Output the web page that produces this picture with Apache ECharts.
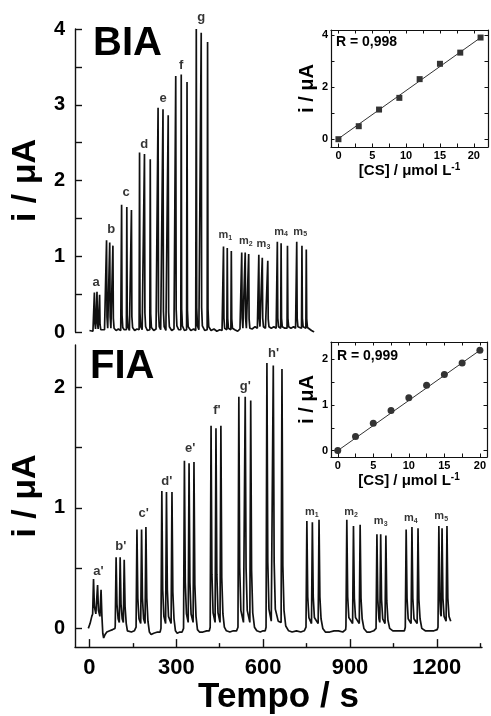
<!DOCTYPE html>
<html>
<head>
<meta charset="utf-8">
<script src="https://cdn.jsdelivr.net/npm/echarts@6/dist/echarts.min.js"></script>
<style>
  html, body { margin: 0; padding: 0; background: #fff; }
  #chart { width: 491px; height: 716px; }
</style>
</head>
<body>
<div id="chart"></div>
<script>
// BIA amperogram: [tempo (s), i (uA)]
const biaTrace = [
  [0,0.02],[6,0.03],[12,0.01],
  [15.5,0.02],[17,0.52],[18.5,0.12],[21,0.04],[24.5,0.03],[26,0.53],[27.5,0.12],[30,0.04],[33.5,0.03],[35,0.49],[36.5,0.1],[39,0.03],
  [45,0.01],[52,0.03],[57,0.02],
  [57.5,0.02],[59,1.21],[60.5,0.2],[63,0.05],[68.5,0.03],[70,1.18],[71.5,0.2],[74,0.05],[79.5,0.03],[81,1.14],[82.5,0.18],[85,0.05],
  [92,0.02],[100,0.04],[108,0.02],
  [109.5,0.03],[111,1.68],[112.5,0.22],[115,0.06],[120,0.03],[127.5,0.03],[129,1.65],[130.5,0.22],[133,0.06],[138,0.02],[143.5,0.03],[145,1.61],[146.5,0.2],[149,0.06],
  [156,0.02],[164,0.04],[170,0.02],
  [171.5,0.03],[173,2.37],[174.5,0.25],[177,0.07],[182,0.03],[188.5,0.03],[190,2.35],[191.5,0.25],[194,0.07],[200,0.02],[208.5,0.03],[210,2.28],[211.5,0.24],[214,0.06],
  [222,0.02],[230,0.04],[235,0.02],
  [235.5,0.03],[237,2.96],[238.5,0.27],[241,0.07],[246,0.03],[252.5,0.03],[254,2.94],[255.5,0.27],[258,0.07],[264,0.02],[270.5,0.03],[272,2.86],[273.5,0.26],[276,0.07],
  [284,0.02],[292,0.04],[296,0.02],
  [296.5,0.03],[298,3.38],[299.5,0.3],[302,0.08],[308,0.03],[315.5,0.03],[317,3.40],[318.5,0.3],[321,0.08],[328,0.02],[335.5,0.03],[337,3.30],[338.5,0.28],[341,0.07],
  [350,0.02],[360,0.04],[367,0.02],
  [367.5,0.03],[369,4.0],[370.5,0.32],[373,0.08],[378,0.03],[384.5,0.03],[386,3.95],[387.5,0.32],[390,0.08],[398,0.02],[406.5,0.03],[408,3.83],[409.5,0.3],[412,0.07],
  [420,0.02],[430,0.04],[440,0.01],[450,0.03],[458,0.02],
  [461.5,0.03],[463,1.13],[464.5,0.18],[467,0.05],[474.5,0.03],[476,1.11],[477.5,0.18],[480,0.05],[488.5,0.03],[490,1.07],[491.5,0.17],[494,0.05],
  [502,0.03],[512,0.01],[520,0.04],[524,0.02],
  [524.5,0.03],[526,1.05],[527.5,0.18],[530,0.05],[536.5,0.03],[538,1.05],[539.5,0.18],[542,0.05],[548.5,0.03],[550,1.03],[551.5,0.17],[554,0.05],
  [562,0.04],[572,0.07],[580,0.05],
  [583.5,0.05],[585,1.02],[586.5,0.18],[589,0.07],[595.5,0.05],[597,0.98],[598.5,0.18],[601,0.07],[608,0.05],[614.5,0.05],[616,0.94],[617.5,0.17],[620,0.07],
  [628,0.05],[637,0.07],[645,0.05],
  [647.5,0.05],[649,1.19],[650.5,0.18],[653,0.07],[660.5,0.05],[662,1.17],[663.5,0.18],[666,0.07],[675,0.05],[682.5,0.05],[684,1.14],[685.5,0.18],[688,0.07],
  [696,0.05],[705,0.07],[712,0.05],
  [714.5,0.05],[716,1.19],[717.5,0.18],[720,0.07],[726,0.05],[732.5,0.05],[734,1.14],[735.5,0.18],[738,0.07],[747.5,0.05],[749,1.09],[750.5,0.17],[753,0.06],
  [760,0.04],[767,0.02],[772,0.03],[776,0.0]
];

// FIA amperogram
const fiaTrace = [
  [-4,0.0],[2,0.04],[8,0.1],[11,0.12],[14,0.41],[17,0.18],[22,0.12],[25,0.11],[28,0.36],[31,0.15],[36,0.1],[38,0.09],[40,0.32],[43,0.1],
  [46,-0.04],[49,-0.08],[54,-0.05],[60,-0.03],[70,-0.02],[80,-0.01],[88,0.0],
  [89,0.02],[92,0.59],[95,0.2],[99,0.08],[103,0.05],[106,0.59],[109,0.2],[113,0.08],[117,0.05],[120,0.57],[123,0.18],[127,0.04],
  [131,-0.02],[136,-0.03],[145,-0.03],[155,-0.02],[161,0.01],
  [164,0.82],[167,0.25],[171,0.08],[177,0.04],[180,0.82],[183,0.25],[187,0.08],[192,0.04],[195,0.84],[198,0.25],[202,0.06],
  [207,-0.03],[213,-0.05],[222,-0.04],[235,-0.03],[244,-0.03],[247,0.0],
  [250,1.14],[253,0.32],[257,0.1],[263,0.04],[266,1.13],[269,0.32],[273,0.1],[282,0.04],[285,1.13],[288,0.3],[292,0.08],
  [297,-0.02],[303,-0.04],[312,-0.03],[320,-0.03],[325,0.0],
  [328,1.39],[331,0.38],[335,0.12],[341,0.05],[344,1.37],[347,0.38],[351,0.12],[358,0.05],[361,1.38],[364,0.36],[368,0.1],
  [373,-0.01],[380,-0.03],[392,-0.03],[405,-0.02],[414,-0.02],[417,0.01],
  [420,1.68],[423,0.45],[427,0.13],[434,0.05],[437,1.66],[440,0.45],[444,0.13],[451,0.05],[454,1.68],[457,0.42],[461,0.12],
  [466,0.01],[473,-0.02],[485,-0.03],[497,-0.02],[508,-0.02],[513,0.01],
  [516,1.92],[519,0.5],[523,0.15],[532,0.05],[535,0.05],[538,1.92],[541,0.5],[545,0.15],[554,0.05],[557,1.89],[560,0.48],[564,0.13],
  [570,0.01],[578,-0.02],[590,-0.03],[600,-0.02],[607,-0.02],[610,0.01],
  [613,2.20],[616,0.55],[620,0.16],[628,0.06],[632,0.05],[635,2.18],[638,0.55],[642,0.16],[652,0.06],[662,0.05],[665,2.15],[668,0.52],[672,0.15],
  [678,0.02],[688,-0.02],[700,-0.03],[715,-0.02],[730,-0.03],[742,-0.02],[748,0.01],
  [751,0.89],[754,0.26],[758,0.09],[767,0.04],[770,0.88],[773,0.26],[777,0.09],[790,0.04],[793,0.90],[796,0.26],[800,0.08],
  [806,0.0],[815,-0.03],[830,-0.03],[845,-0.02],[860,-0.02],[875,-0.03],[885,-0.01],
  [886,0.02],[889,0.90],[892,0.26],[896,0.09],[909,0.04],[912,0.85],[915,0.25],[919,0.09],[932,0.04],[935,0.86],[938,0.25],[942,0.08],
  [948,0.0],[958,-0.03],[970,-0.03],[982,-0.02],[990,0.0],
  [993,0.78],[996,0.24],[1000,0.08],[1003,0.05],[1006,0.78],[1009,0.24],[1013,0.08],[1021,0.04],[1024,0.77],[1027,0.23],[1031,0.07],
  [1037,0.0],[1048,-0.02],[1060,-0.02],[1075,-0.02],[1088,-0.02],[1091,0.01],
  [1094,0.82],[1097,0.25],[1101,0.08],[1111,0.04],[1114,0.84],[1117,0.25],[1121,0.08],[1132,0.04],[1135,0.83],[1138,0.24],[1142,0.08],
  [1148,0.0],[1160,-0.02],[1175,-0.02],[1190,-0.02],[1201,-0.01],[1204,0.01],
  [1207,0.85],[1210,0.26],[1213,0.12],[1215,0.1],[1218,0.83],[1221,0.25],[1225,0.1],[1232,0.06],[1235,0.85],[1238,0.25],[1242,0.1],[1248,0.06]
];

// peak labels: [tempo, i, text, subscript]
const biaLabels = [
  [23,0.65,'a',''],[75,1.35,'b',''],[127,1.84,'c',''],[189,2.48,'d',''],[254,3.08,'e',''],[317,3.52,'f',''],[386,4.15,'g',''],
  [469,1.27,'m','1'],[540,1.19,'m','2'],[601,1.15,'m','3'],[662,1.32,'m','4'],[728,1.32,'m','5']
];
const fiaLabels = [
  [31,0.47,"a'",''],[108,0.68,"b'",''],[187,0.95,"c'",''],[267,1.22,"d'",''],[348,1.49,"e'",''],[440,1.81,"f'",''],[538,2.01,"g'",''],[636,2.28,"h'",''],
  [768,0.96,'m','1'],[904,0.96,'m','2'],[1006,0.89,'m','3'],[1110,0.91,'m','4'],[1215,0.93,'m','5']
];

// calibration insets
const biaConc = [0, 3, 6, 9, 12, 15, 18, 21];
const biaCurrent = [0.0, 0.5, 1.14, 1.59, 2.31, 2.9, 3.33, 3.91];
const biaFit = [[0, 0.02], [21.4, 3.98]];
const fiaConc = [0, 2.5, 5, 7.5, 10, 12.5, 15, 17.5, 20];
const fiaCurrent = [0.0, 0.31, 0.6, 0.88, 1.16, 1.43, 1.67, 1.92, 2.2];
const fiaFit = [[0, 0.0], [20.2, 2.22]];

// ticks
const timeTicks = [0, 300, 600, 900, 1200];
const timeMinor = [150, 450, 750, 1050, 1350];
const biaYTicks = [0, 0.5, 1, 1.5, 2, 2.5, 3, 3.5, 4];
const biaYLabels = [0, 1, 2, 3, 4];
const fiaYTicks = [0, 0.5, 1, 1.5, 2];
const fiaYLabels = [0, 1, 2];
const insetXTicks = [0, 2.5, 5, 7.5, 10, 12.5, 15, 17.5, 20];
const insetXLabels = [0, 5, 10, 15, 20];
const insetBiaYTicks = [0, 1, 2, 3, 4];
const insetBiaYLabels = [0, 2, 4];
const insetFiaYTicks = [0, 0.5, 1, 1.5, 2];
const insetFiaYLabels = [0, 1, 2];

const FONT = '"Liberation Sans", Arial, sans-serif';
const INK = '#111';

const chart = echarts.init(document.getElementById('chart'));

function plain(v) { return String(v); }

function mainY(grid, min, max, ticks, labels) {
  return {
    gridIndex: grid, type: 'value', position: 'left', min: min, max: max,
    axisLine: { show: true, onZero: false, lineStyle: { color: INK, width: 1.4 } },
    axisTick: { show: true, inside: true, length: 7, customValues: ticks, lineStyle: { color: INK, width: 1.4 } },
    axisLabel: { customValues: labels, formatter: plain, margin: 10, fontSize: 20, fontWeight: 'bold', color: '#000', fontFamily: FONT },
    splitLine: { show: false },
    name: 'i / \u03bcA', nameLocation: 'middle', nameGap: 30,
    nameTextStyle: { fontSize: 34, fontWeight: 'bold', color: '#000', fontFamily: FONT }
  };
}

function insetAxis(grid, pos, min, max, ticks, labels, name, nameGap, nameSize) {
  const a = {
    gridIndex: grid, type: 'value', position: pos, min: min, max: max,
    axisLine: { show: true, onZero: false, lineStyle: { color: INK, width: 1.2 } },
    axisTick: { show: true, inside: true, length: 3.5, customValues: ticks, lineStyle: { color: INK, width: 1 } },
    axisLabel: labels ? { customValues: labels, formatter: plain, margin: 3, fontSize: 11, fontWeight: 'bold', color: '#000', fontFamily: FONT } : { show: false },
    splitLine: { show: false }
  };
  if (name) {
    a.name = name;
    a.nameLocation = 'middle';
    a.nameGap = nameGap;
    a.nameTextStyle = {
      fontSize: nameSize, fontWeight: 'bold', color: '#000', fontFamily: FONT,
      rich: {
        b: { fontSize: nameSize, fontWeight: 'bold', fontFamily: FONT, color: '#000', lineHeight: 16, verticalAlign: 'bottom' },
        sup: { fontSize: 10, fontWeight: 'bold', fontFamily: FONT, color: '#000', lineHeight: 10, verticalAlign: 'top' }
      }
    };
  }
  return a;
}

const labelRich = {
  b: { fontSize: 13, fontWeight: 'bold', fontFamily: FONT, color: '#000', lineHeight: 13, verticalAlign: 'top' },
  m: { fontSize: 11, fontWeight: 'bold', fontFamily: FONT, color: '#000', lineHeight: 12, verticalAlign: 'top' },
  s: { fontSize: 7, fontWeight: 'bold', fontFamily: FONT, color: '#000', lineHeight: 7, padding: [7, 0, 0, 0], verticalAlign: 'bottom' }
};
function labelFmt(p) {
  const v = p.value;
  return v[3] ? '{m|' + v[2] + '}{s|' + v[3] + '}' : '{b|' + v[2] + '}';
}

chart.setOption({
  animation: false,
  backgroundColor: '#fff',
  textStyle: { fontFamily: FONT },
  grid: [
    { left: 75, top: 29, width: 407, height: 303 },
    { left: 75, top: 345, width: 407, height: 307 },
    { left: 331, top: 30, width: 157, height: 117 },
    { left: 331, top: 342, width: 156, height: 115 }
  ],
  xAxis: [
    { gridIndex: 0, type: 'value', min: -50, max: 1356, show: false },
    {
      gridIndex: 1, type: 'value', min: -50, max: 1356, position: 'bottom',
      axisLine: { show: true, onZero: false, lineStyle: { color: INK, width: 1.4 } },
      axisTick: { show: true, inside: true, length: 8, customValues: timeTicks, lineStyle: { color: INK, width: 1.4 } },
      axisLabel: { customValues: timeTicks, formatter: plain, margin: 10, fontSize: 22, fontWeight: 'bold', color: '#000', fontFamily: FONT },
      splitLine: { show: false },
      name: 'Tempo / s', nameLocation: 'middle', nameGap: 24,
      nameTextStyle: { fontSize: 35, fontWeight: 'bold', color: '#000', fontFamily: FONT, verticalAlign: 'top' }
    },
    {
      gridIndex: 1, type: 'value', min: -50, max: 1356, position: 'bottom',
      axisLine: { show: false, onZero: false },
      axisTick: { show: true, inside: true, length: 4, customValues: timeMinor, lineStyle: { color: INK, width: 1.4 } },
      axisLabel: { show: false }, splitLine: { show: false }
    },
    insetAxis(2, 'bottom', -1.1, 22.1, insetXTicks, insetXLabels, '{b|[CS] / \u03bcmol L}{sup|-1}', 4, 15),
    insetAxis(2, 'top', -1.1, 22.1, insetXTicks, null),
    insetAxis(3, 'bottom', -0.95, 21.0, insetXTicks, insetXLabels, '{b|[CS] / \u03bcmol L}{sup|-1}', 10, 15),
    insetAxis(3, 'top', -0.95, 21.0, insetXTicks, null)
  ],
  yAxis: [
    mainY(0, 0, 4, biaYTicks, biaYLabels),
    mainY(1, -0.155, 2.35, fiaYTicks, fiaYLabels),
    insetAxis(2, 'left', -0.3, 4.2, insetBiaYTicks, insetBiaYLabels, 'i / \u03bcA', 4, 20),
    insetAxis(2, 'right', -0.3, 4.2, insetBiaYTicks, null),
    insetAxis(3, 'left', -0.14, 2.38, insetFiaYTicks, insetFiaYLabels, 'i / \u03bcA', 4, 20),
    insetAxis(3, 'right', -0.14, 2.38, insetFiaYTicks, null)
  ],
  series: [
    {
      type: 'line', xAxisIndex: 0, yAxisIndex: 0, data: biaTrace, showSymbol: false, symbol: 'none',
      lineStyle: { color: INK, width: 1.7 }
    },
    {
      type: 'scatter', xAxisIndex: 0, yAxisIndex: 0, data: biaLabels, symbolSize: 0, clip: false,
      label: { show: true, position: 'inside', formatter: labelFmt, rich: labelRich }
    },
    {
      type: 'line', xAxisIndex: 1, yAxisIndex: 1, data: fiaTrace, showSymbol: false, symbol: 'none',
      lineStyle: { color: INK, width: 1.7 }
    },
    {
      type: 'scatter', xAxisIndex: 1, yAxisIndex: 1, data: fiaLabels, symbolSize: 0, clip: false,
      label: { show: true, position: 'inside', formatter: labelFmt, rich: labelRich }
    },
    {
      type: 'line', xAxisIndex: 3, yAxisIndex: 2, data: biaFit, showSymbol: false, symbol: 'none',
      lineStyle: { color: '#333', width: 1 }
    },
    {
      type: 'scatter', xAxisIndex: 3, yAxisIndex: 2, symbol: 'rect', symbolSize: 6,
      itemStyle: { color: '#000' },
      data: biaConc.map((c, k) => [c, biaCurrent[k]])
    },
    {
      type: 'line', xAxisIndex: 5, yAxisIndex: 4, data: fiaFit, showSymbol: false, symbol: 'none',
      lineStyle: { color: '#333', width: 1 }
    },
    {
      type: 'scatter', xAxisIndex: 5, yAxisIndex: 4, symbol: 'circle', symbolSize: 7,
      itemStyle: { color: '#000' },
      data: fiaConc.map((c, k) => [c, fiaCurrent[k]])
    }
  ],
  graphic: [
    { type: 'text', left: 93, top: 24, style: { text: 'BIA', font: 'bold 40px ' + FONT, fill: '#000' } },
    { type: 'text', left: 90, top: 347, style: { text: 'FIA', font: 'bold 40px ' + FONT, fill: '#000' } },
    { type: 'text', left: 336, top: 35, style: { text: 'R = 0,998', font: 'bold 14px ' + FONT, fill: '#000' } },
    { type: 'text', left: 337, top: 349, style: { text: 'R = 0,999', font: 'bold 14px ' + FONT, fill: '#000' } }
  ]
});
</script>
</body>
</html>
